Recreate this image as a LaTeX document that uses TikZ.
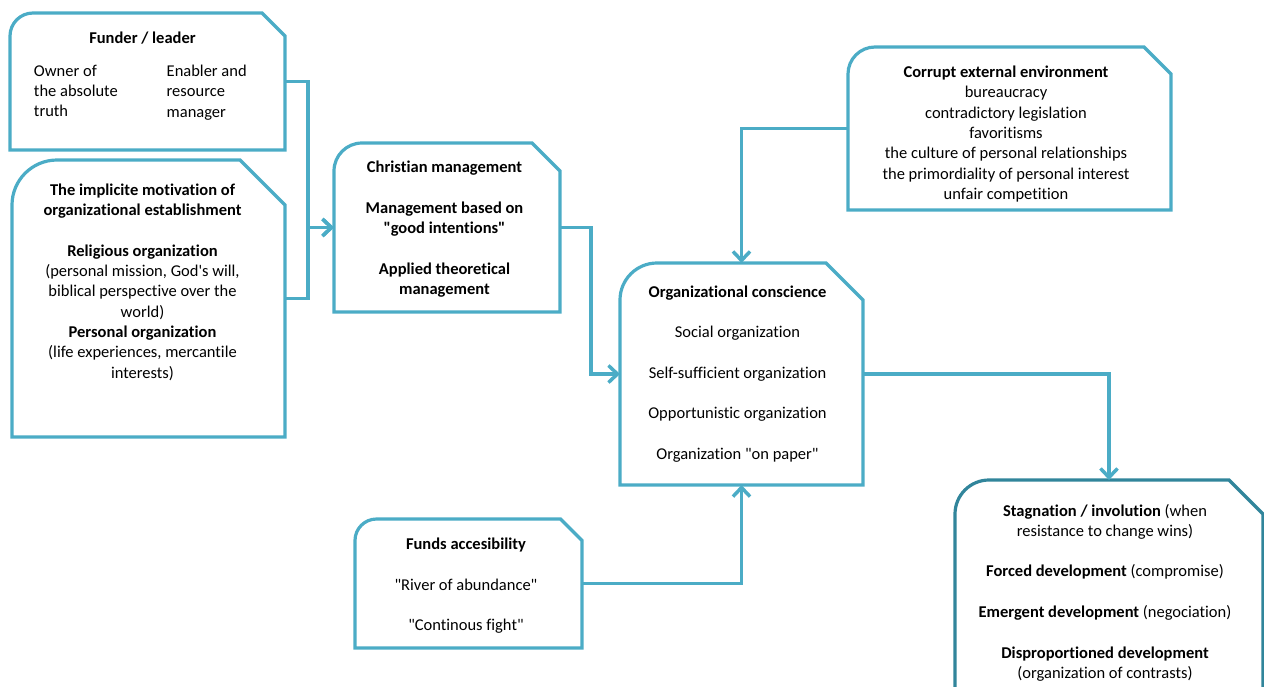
\documentclass[tikz,border=0pt]{standalone}
\usepackage{fontspec}
\setmainfont{Carlito}[Ligatures={TeX,NoCommon}]
\usetikzlibrary{arrows.meta,calc}

\definecolor{linkteal}{RGB}{75,172,198}
\definecolor{darkteal}{RGB}{49,133,155}

\tikzset{
  frame/.style={rectangle, draw=none, inner sep=0pt, outer sep=0pt},
  boxline/.style={line width=3.2pt, draw=linkteal, fill=white, line join=miter},
  conn/.style={line width=3.5pt, draw=linkteal, line join=miter,
    -{Straight Barb[length=9pt,width=17pt,line width=3.5pt]}},
  txt/.style={font=\fontsize{16.5}{20.3}\selectfont, align=center, anchor=north,
    inner sep=0pt, outer sep=0pt, text=black, execute at begin node=\strut},
  coltxt/.style={txt, align=left, anchor=north west},
}

% outline with a rounded top-left corner and a snipped top-right corner
\newcommand{\sniprbox}[3][linkteal]{%
  \draw[boxline, draw=#1] (#2.south west) -- ([yshift=-#3]#2.north west)
    arc[start angle=180, end angle=90, radius=#3]
    -- ([xshift=-#3]#2.north east) -- ([yshift=-#3]#2.north east)
    -- (#2.south east) -- cycle;}

\newcommand{\gap}{\\[20.3pt]}
\newcommand{\dq}{\textquotedbl}

\begin{document}
\begin{tikzpicture}[x=1pt, y=-1pt]
\useasboundingbox (0,0) rectangle (1264,686);

% box frames
\node[frame, minimum width=275pt, minimum height=137pt] (fund) at (147.5,81.5) {};
\node[frame, minimum width=273pt, minimum height=277pt] (imp)  at (148.5,298.5) {};
\node[frame, minimum width=226pt, minimum height=169pt] (chr)  at (447,227.5) {};
\node[frame, minimum width=323pt, minimum height=163pt] (cor)  at (1009.5,128.5) {};
\node[frame, minimum width=243pt, minimum height=222pt] (org)  at (741.5,374) {};
\node[frame, minimum width=227pt, minimum height=129pt] (fun)  at (468.5,583.5) {};
\node[frame, minimum width=308pt, minimum height=210pt] (stag) at (1109,585) {};

\sniprbox{fund}{23pt}
\sniprbox{imp}{45pt}
\sniprbox{chr}{28pt}
\sniprbox{cor}{27pt}
\sniprbox{org}{37pt}
\sniprbox{fun}{21.5pt}
\sniprbox[darkteal]{stag}{34pt}

% texts
\node[txt] (fundT) at (142.5,29) {\textbf{Funder / leader}};
\node[coltxt] (fundL) at (34,65) {Owner of\\the absolute\\truth};
\node[coltxt] (fundR) at (166.7,65) {Enabler and\\resource\\manager};

\node[txt] (impT) at (142.5,183.8) {\textbf{The implicite motivation of}\\
  \textbf{organizational establishment}\gap
  \textbf{Religious organization}\\
  (personal mission, God\textquotesingle s will,\\
  biblical perspective over the\\
  world)\\
  \textbf{Personal organization}\\
  (life experiences, mercantile\\
  interests)};

\node[txt] (chrT) at (444.5,161) {\textbf{Christian management}\gap
  \textbf{Management based on}\\
  \textbf{\dq good intentions\dq}\gap
  \textbf{Applied theoretical}\\
  \textbf{management}};

\node[txt] (corT) at (1006,66) {\textbf{Corrupt external environment}\\
  bureaucracy\\
  contradictory legislation\\
  favoritisms\\
  the culture of personal relationships\\
  the primordiality of personal interest\\
  unfair competition};

\node[txt] (orgT) at (737.5,285.5) {\textbf{Organizational conscience}\gap
  Social organization\gap
  Self-sufficient organization\gap
  Opportunistic organization\gap
  Organization \dq on paper\dq};

\node[txt] (funT) at (466,538) {\textbf{Funds accesibility}\gap
  \dq River of abundance\dq\gap
  \dq Continous fight\dq};

\node[txt] (stagT) at (1105,504) {\textbf{Stagnation / involution} (when\\
  resistance to change wins)\gap
  \textbf{Forced development} (compromise)\gap
  \textbf{Emergent development} (negociation)\gap
  \textbf{Disproportioned development}\\
  (organization of contrasts)};

% connectors
\draw[conn] (fund.east) -- ++(23,0) |- (chr.west);
\draw[conn] (imp.east) -- ++(23,0) |- (chr.west);
\draw[conn] (chr.east) -- ++(31,0) |- (org.west);
\draw[conn] (cor.west) -| (org.north);
\draw[conn] (fun.east) -| (org.south);
\draw[conn] (org.east) -| (stag.north);
\end{tikzpicture}
\end{document}
